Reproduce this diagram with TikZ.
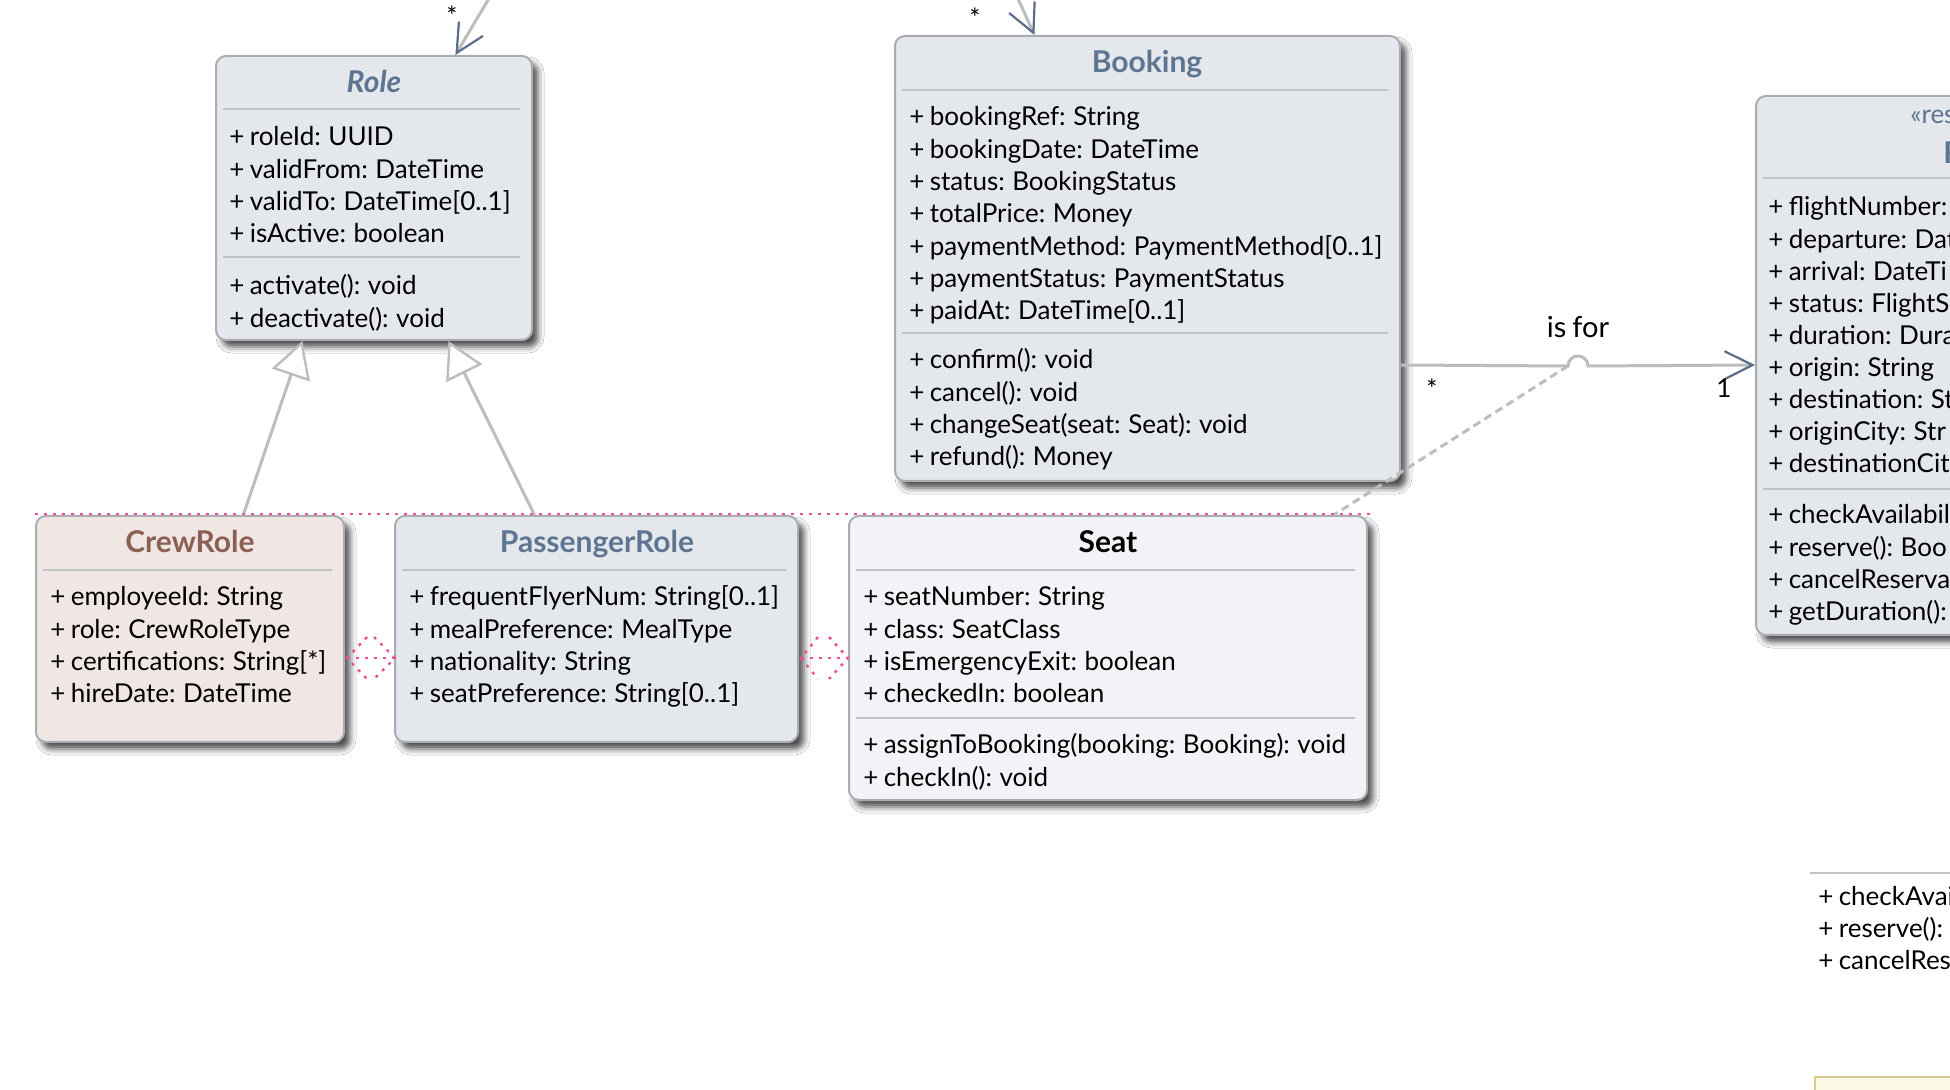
\documentclass[tikz,border=0pt]{standalone}
\usepackage{fontspec}
\setmainfont[WordSpace=0.8]{Lato}
\usetikzlibrary{arrows.meta,calc,fit,shadows.blur}
\definecolor{boxfill}{HTML}{E4E7EC}
\definecolor{seatfill}{HTML}{F1F3F7}
\definecolor{crewfill}{HTML}{F0E6E3}
\definecolor{boxline}{HTML}{A9ACB1}
\definecolor{sepcol}{HTML}{BFC2C6}
\definecolor{slate}{HTML}{5E7591}
\definecolor{crewtitle}{HTML}{8C5F53}
\definecolor{conngray}{HTML}{BDBDBD}
\definecolor{arrowslate}{HTML}{5B6E89}
\definecolor{pinkc}{HTML}{EE4F9C}
\definecolor{notefill}{HTML}{FDFAE6}
\definecolor{noteline}{HTML}{D8C98F}
\newcommand\attrlines[5]{%
  \foreach \t [count=\i] in {#5} \node[attr] (#1\i) at (#2,{#3+#4*(\i-1)}) {\t};}
\begin{document}
\begin{tikzpicture}[x=0.5pt,y=-0.5pt,
  classbox/.style={draw=boxline, line width=1pt, rounded corners=5pt, fill=boxfill, inner sep=0pt,
    blur shadow={shadow xshift=3pt, shadow yshift=-3.5pt, shadow blur radius=3pt, shadow opacity=70}},
  titletext/.style={font=\fontsize{15}{18}\selectfont\bfseries, text=slate, inner sep=0pt, anchor=base},
  attr/.style={font=\fontsize{13}{16}\selectfont, inner sep=0pt, anchor=base west, text=black},
  sepline/.style={draw=sepcol, line width=1pt},
  conn/.style={draw=conngray, line width=1.5pt},
  vtip/.tip={Straight Barb[length=14pt,width=14pt,line width=1.1pt,color=arrowslate]},
  gentip/.tip={Triangle[length=18pt,width=20pt,fill=white,line width=1.2pt]},
  pinkdot/.style={draw=pinkc, line width=1.2pt, dash pattern=on 1.5pt off 3pt},
  dashconn/.style={draw=conngray, line width=1.5pt, dash pattern=on 4pt off 2.5pt},
  mult/.style={inner sep=0pt, anchor=base, font=\fontsize{13}{16}\selectfont}
]
\useasboundingbox (0,0) rectangle (1950,1090);
\clip (0,0) rectangle (1950,1090);
\fill[white] (0,0) rectangle (1950,1090);

% ---------- class boxes ----------
\node[classbox, fit={(216,56) (532,340)}] (role) {};
\node[classbox, fit={(895,36) (1400,481)}] (booking) {};
\node[classbox, fit={(1756,96) (2020,635)}] (flight) {};
\node[classbox, fill=crewfill, fit={(36,516) (344,742)}] (crew) {};
\node[classbox, fit={(395,516) (798,742)}] (pass) {};
\node[classbox, fill=seatfill, fit={(849,516) (1367,800)}] (seat) {};
\node[draw=noteline, fill=notefill, line width=1pt, inner sep=0pt, fit={(1815,1077) (2020,1160)}] (note) {};

% ---------- separators ----------
\draw[sepline] (223,109) -- (520,109);
\draw[sepline] (223,257) -- (520,257);
\draw[sepline] (902,90) -- (1388,90);
\draw[sepline] (902,333) -- (1388,333);
\draw[sepline] (1763,178) -- (1960,178);
\draw[sepline] (1763,489) -- (1960,489);
\draw[sepline] (43,570) -- (332,570);
\draw[sepline] (402,570) -- (786,570);
\draw[sepline] (856,570) -- (1355,570);
\draw[sepline] (856,718) -- (1355,718);
\draw[sepline] (1810,873) -- (1960,873);

% ---------- titles ----------
\node[titletext] (roleT) at (374,93) {\itshape Role};
\node[titletext] (bookingT) at (1147,73) {Booking};
\node[attr, text=slate] (flightS) at (1910,124) {«res};
\node[titletext, anchor=base west] (flightT) at (1943,164) {F};
\node[titletext, text=crewtitle] (crewT) at (190,553) {CrewRole};
\node[titletext] (passT) at (597,553) {PassengerRole};
\node[titletext, text=black] (seatT) at (1108,553) {Seat};

% ---------- members ----------
\attrlines{roleA}{229}{146}{32.3}{{+ roleId: UUID},{+ validFrom: DateTime},{+ validTo: DateTime[0..1]},{+ isActive: boolean}}
\attrlines{roleM}{229}{295}{32.3}{{+ activate(): void},{+ deactivate(): void}}
\attrlines{bookA}{909}{126}{32.3}{{+ bookingRef: String},{+ bookingDate: DateTime},{+ status: BookingStatus},{+ totalPrice: Money},{+ paymentMethod: PaymentMethod[0..1]},{+ paymentStatus: PaymentStatus},{+ paidAt: DateTime[0..1]}}
\attrlines{bookM}{909}{369}{32.3}{{+ confirm(): void},{+ cancel(): void},{+ changeSeat(seat: Seat): void},{+ refund(): Money}}
\attrlines{flA}{1768}{216}{32.1}{{+ flightNumber:},{+ departure: Dat},{+ arrival: DateTi},{+ status: FlightS},{+ duration: Dura},{+ origin: String},{+ destination: St},{+ originCity: Str},{+ destinationCit}}
\attrlines{flM}{1768}{524}{32.1}{{+ checkAvailabil},{+ reserve(): Boo},{+ cancelReserva},{+ getDuration():}}
\attrlines{crewA}{50}{606}{32.3}{{+ employeeId: String},{+ role: CrewRoleType},{+ certifications: String[*]},{+ hireDate: DateTime}}
\attrlines{passA}{409}{606}{32.3}{{+ frequentFlyerNum: String[0..1]},{+ mealPreference: MealType},{+ nationality: String},{+ seatPreference: String[0..1]}}
\attrlines{seatA}{863}{606}{32.3}{{+ seatNumber: String},{+ class: SeatClass},{+ isEmergencyExit: boolean},{+ checkedIn: boolean}}
\attrlines{seatM}{863}{754}{32.3}{{+ assignToBooking(booking: Booking): void},{+ checkIn(): void}}
\attrlines{brM}{1818}{905}{32.1}{{+ checkAvai},{+ reserve():},{+ cancelRes}}

% ---------- generalizations ----------
\draw[conn, -gentip] ($(crew.north west)!0.672!(crew.north east)$) -- ($(role.south west)!0.275!(role.south east)$);
\draw[conn, -gentip] ($(pass.north west)!0.347!(pass.north east)$) -- ($(role.south west)!0.734!(role.south east)$);

% ---------- incoming associations from above ----------
\coordinate (roleIn) at (507,-32);
\draw[conn, -vtip] (roleIn) -- ($(role.north west)!0.756!(role.north east)$);
\node[mult] (roleStar) at (452,26) {*};
\coordinate (bookIn) at (1005,-30);
\draw[conn, -vtip] (bookIn) -- ($(booking.north west)!0.277!(booking.north east)$);
\node[mult] (bookStar) at (975,28) {*};

% ---------- is for ----------
\coordinate (hopL) at (1568,366);
\draw[conn, -vtip] ($(booking.north east)+(0,330)$) -- (hopL)
  arc[start angle=180, end angle=0, radius=5pt] -- ($(flight.north west)+(0,270)$);
\node[mult, font=\fontsize{14.5}{17}\selectfont] (isfor) at (1578,338) {is for};
\node[mult] (bStar) at (1432,399) {*};
\node[mult] (fOne) at (1724,398) {1};

% ---------- association class dashed link ----------
\draw[dashconn] (hopL) -- ($(seat.north west)!0.934!(seat.north east)$);

% ---------- pink boundary and links ----------
\coordinate (pL) at (35,514);
\coordinate (pR) at (1370,514);
\draw[pinkdot] (pL) -- (pR);
\coordinate (c1) at ($(crew.north east)+(2,143)$);
\coordinate (c2) at ($(pass.north west)+(1,143)$);
\draw[pinkdot] (c1) -- (c2);
\draw[pinkdot] ($(c1)+(20,-21)$) -- (c1) -- ($(c1)+(20,21)$);
\draw[pinkdot] ($(c2)+(-21,-21)$) -- (c2) -- ($(c2)+(-21,21)$);
\coordinate (c3) at ($(pass.north east)+(2,143)$);
\coordinate (c4) at ($(seat.north west)+(0,143)$);
\draw[pinkdot] (c3) -- (c4);
\draw[pinkdot] ($(c3)+(17,-21)$) -- (c3) -- ($(c3)+(17,21)$);
\draw[pinkdot] ($(c4)+(-19,-21)$) -- (c4) -- ($(c4)+(-19,21)$);
\end{tikzpicture}
\end{document}
